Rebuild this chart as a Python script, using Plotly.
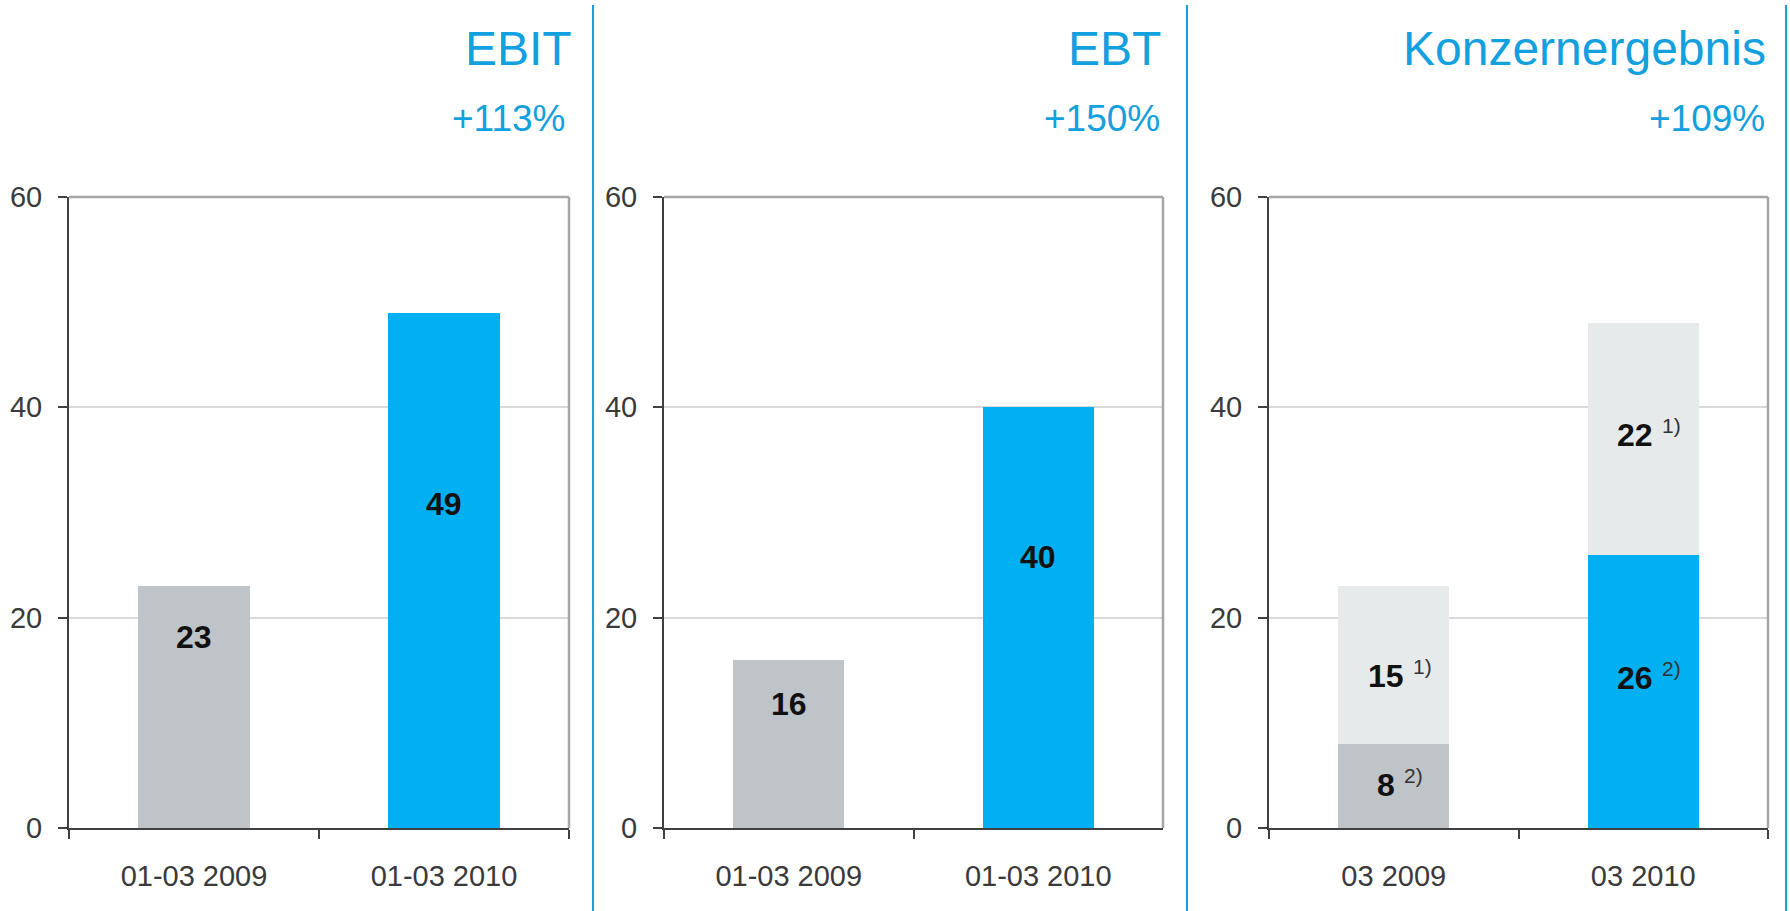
import plotly.graph_objects as go

W, H = 1790, 911

# ---- data ----
cats_q1 = ["01-03 2009", "01-03 2010"]
cats_q3 = ["03 2009", "03 2010"]
ebit_values = [23, 49]
ebt_values = [16, 40]
konzern_part2 = [8, 26]     # lower segment, footnote 2)
konzern_part1 = [15, 22]    # upper segment, footnote 1)
panel_titles = ["EBIT", "EBT", "Konzernergebnis"]
panel_changes = ["+113%", "+150%", "+109%"]
y_ticks = [0, 20, 40, 60]
footnote_part2 = "2)"
footnote_part1 = "1)"

# label vertical placement (data units)
ebit_label_y = [18.2, 30.8]
ebt_label_y = [11.8, 25.8]
part2_label_y = [4.1, 14.3]
part1_label_y = [14.5, 37.4]

# ---- styles ----
BLUE = "#00B0F0"
GREY = "#BEC4C8"
LIGHT = "#E7EAEB"
TITLE_BLUE = "#12A0DE"
SEP_BLUE = "#1CA0DC"
FONT = "Liberation Sans, Arial, sans-serif"

def px_x(p):
    return p / W

def px_y(p):
    return 1 - p / H

panels_px = [(69, 569), (664, 1163), (1269, 1768)]
y_top, y_bot = 197, 828
bar_w = 0.445

fig = go.Figure()

fig.add_trace(go.Bar(x=cats_q1, y=ebit_values, marker=dict(color=[GREY, BLUE], line=dict(width=0)),
                     width=bar_w, xaxis="x", yaxis="y", hoverinfo="x+y", showlegend=False))
fig.add_trace(go.Bar(x=cats_q1, y=ebt_values, marker=dict(color=[GREY, BLUE], line=dict(width=0)),
                     width=bar_w, xaxis="x2", yaxis="y2", hoverinfo="x+y", showlegend=False))
fig.add_trace(go.Bar(x=cats_q3, y=konzern_part2, marker=dict(color=[GREY, BLUE], line=dict(width=0)),
                     width=bar_w, xaxis="x3", yaxis="y3", hoverinfo="x+y", showlegend=False))
fig.add_trace(go.Bar(x=cats_q3, y=konzern_part1, marker=dict(color=[LIGHT, LIGHT], line=dict(width=0)),
                     width=bar_w, xaxis="x3", yaxis="y3", hoverinfo="x+y", showlegend=False))

axis_font = dict(family=FONT, size=29, color="#3a3a3a")
layout = dict(
    width=W, height=H, autosize=False,
    margin=dict(l=0, r=0, t=0, b=0, autoexpand=False),
    paper_bgcolor="white", plot_bgcolor="white",
    barmode="stack", showlegend=False,
    font=dict(family=FONT),
)

shapes = []
annotations = []
for i, (l, r) in enumerate(panels_px):
    sfx = "" if i == 0 else str(i + 1)
    xa = "xaxis" + sfx
    ya = "yaxis" + sfx
    layout[xa] = dict(
        domain=[px_x(l), px_x(r)], anchor="y" + sfx, type="category", automargin=False,
        range=[-0.5, 1.5], showline=True, linecolor="#404040", linewidth=2,
        ticks="outside", tickson="boundaries", ticklen=9, tickwidth=2, tickcolor="#404040",
        tickfont=axis_font, ticklabelstandoff=21, showgrid=False, zeroline=False, fixedrange=True,
    )
    layout[ya] = dict(
        domain=[px_y(y_bot), px_y(y_top)], anchor="x" + sfx, automargin=False,
        range=[0, 60], tickvals=y_ticks, showline=True, linecolor="#404040", linewidth=2,
        ticks="outside", ticklen=9, tickwidth=2, tickcolor="#404040",
        tickfont=axis_font, ticklabelstandoff=10,
        showgrid=True, gridcolor="#D9D9D9", gridwidth=2, zeroline=False, fixedrange=True,
    )
    xd = "x" + sfx + " domain"
    yd = "y" + sfx + " domain"
    # grey top and right frame
    shapes.append(dict(type="line", xref=xd, yref=yd, x0=0, x1=1, y0=1, y1=1,
                       line=dict(color="#A6A6A6", width=2.5), layer="above"))
    shapes.append(dict(type="line", xref=xd, yref=yd, x0=1, x1=1, y0=0, y1=1,
                       line=dict(color="#A6A6A6", width=2.5), layer="above"))
    # titles
    annotations.append(dict(text=panel_titles[i], xref="paper", yref="paper",
                            x=px_x(r + (5 if i == 0 else 0)), y=px_y(48), xanchor="right", yanchor="middle",
                            showarrow=False, font=dict(family=FONT, size=48, color=TITLE_BLUE)))
    annotations.append(dict(text=panel_changes[i], xref="paper", yref="paper",
                            x=px_x(r - 1), y=px_y(118), xanchor="right", yanchor="middle",
                            showarrow=False, font=dict(family=FONT, size=37, color=TITLE_BLUE)))

# separators
for xs in [593, 1187, 1786]:
    shapes.append(dict(type="line", xref="paper", yref="paper", x0=px_x(xs), x1=px_x(xs),
                       y0=px_y(5), y1=0, line=dict(color=SEP_BLUE, width=2)))

lab_font = dict(family=FONT, size=32, color="#111111", weight="bold")
sup_font = dict(family=FONT, size=21, color="#333333")
for c, v, ly in zip(cats_q1, ebit_values, ebit_label_y):
    annotations.append(dict(text=str(v), x=c, y=ly, xref="x", yref="y",
                            showarrow=False, font=lab_font))
for c, v, ly in zip(cats_q1, ebt_values, ebt_label_y):
    annotations.append(dict(text=str(v), x=c, y=ly, xref="x2", yref="y2",
                            showarrow=False, font=lab_font))
for j, c in enumerate(cats_q3):
    for val, ly, fn in [(konzern_part2[j], part2_label_y[j], footnote_part2),
                        (konzern_part1[j], part1_label_y[j], footnote_part1)]:
        nd = len(str(val))
        num_w = 18 * nd
        annotations.append(dict(text=str(val), x=c, y=ly, xref="x3", yref="y3",
                                xanchor="right", xshift=num_w / 2 - 6,
                                showarrow=False, font=lab_font))
        annotations.append(dict(text=fn, x=c, y=ly, xref="x3", yref="y3",
                                xanchor="left", xshift=num_w / 2 - 1, yshift=9,
                                showarrow=False, font=sup_font))

layout["shapes"] = shapes
layout["annotations"] = annotations
fig.update_layout(**layout)

fig.write_html("out.html", config={"displayModeBar": False},
               post_script="document.body.style.margin='0px';document.body.style.overflow='hidden';")
